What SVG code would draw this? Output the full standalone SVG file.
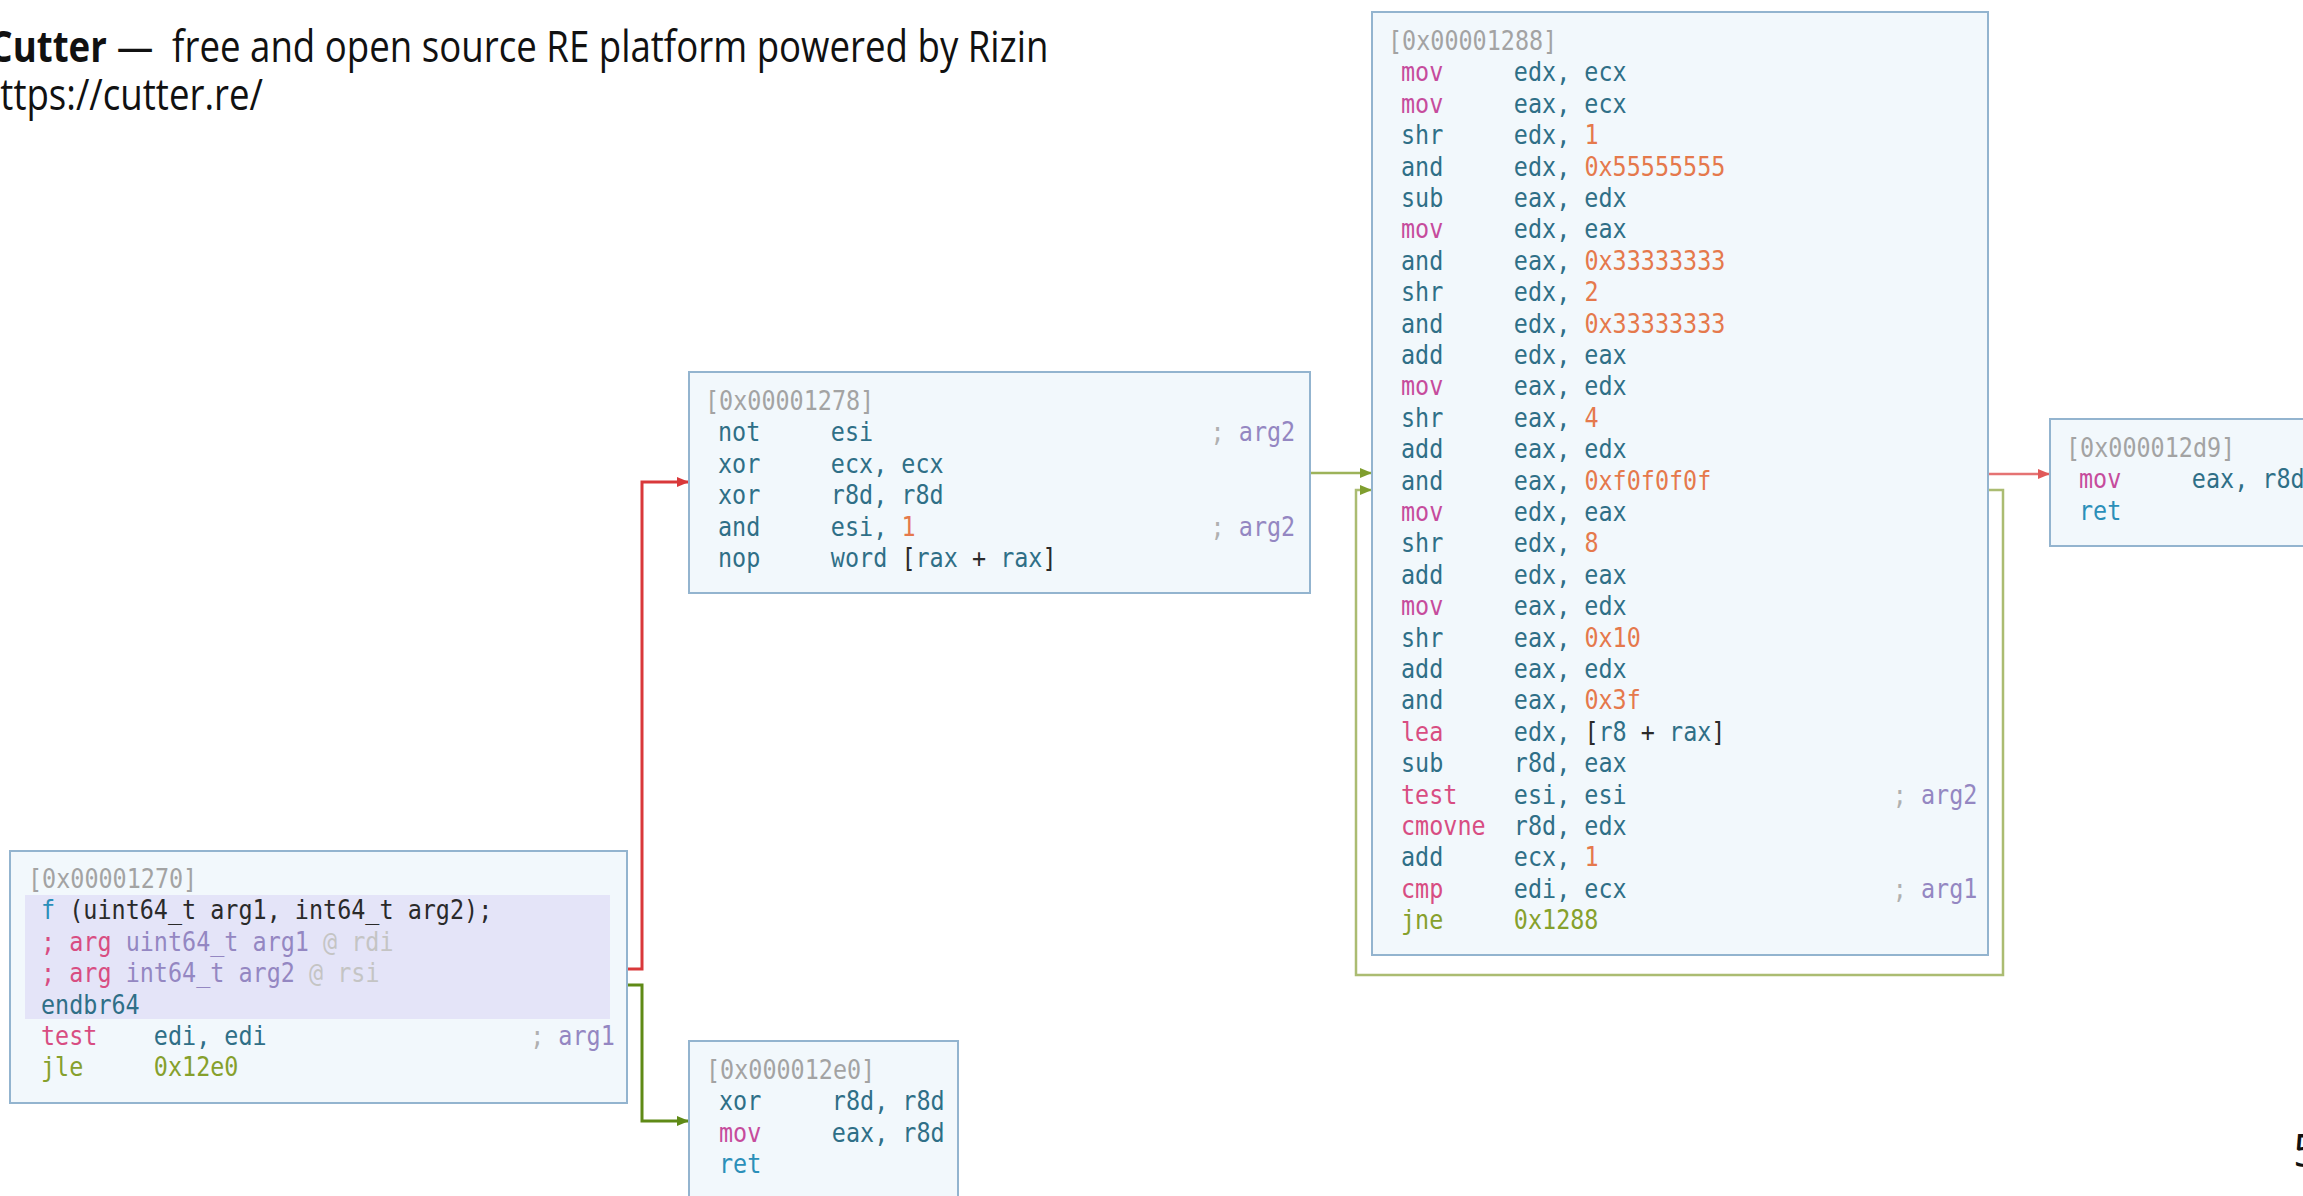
<svg xmlns="http://www.w3.org/2000/svg" width="2303" height="1196" viewBox="0 0 2303 1196">
  <style>
    .blk { fill: #f2f8fc; stroke: #93b4cf; stroke-width: 2; }
    .band { fill: #e4e4f8; }
    .code { font-family: "DejaVu Sans Mono", "Liberation Mono", monospace; font-size: 27px; fill: #2f6f87; }
    .addr { fill: #a3a3a3; }
    .mv { fill: #c64c9c; }
    .hot { fill: #d84d82; }
    .op { fill: #2f6f87; }
    .jmp { fill: #86a02c; }
    .rt { fill: #2b8fb9; }
    .num { fill: #e5794c; }
    .dk { fill: #2a2a2a; }
    .semi { fill: #b0b0b0; }
    .cm { fill: #9487c2; }
    .at { fill: #c4c4c4; }
    .edge { fill: none; stroke-linejoin: miter; }
    .title { font-family: "Open Sans", "Noto Sans", sans-serif; fill: #111; }
  </style>
  <defs>
    <marker id="ahRed" markerUnits="userSpaceOnUse" markerWidth="14" markerHeight="12" refX="12" refY="5" orient="auto">
      <path d="M0,0 L12,5 L0,10 Z" fill="#d9383a"/>
    </marker>
    <marker id="ahGreen" markerUnits="userSpaceOnUse" markerWidth="14" markerHeight="12" refX="12" refY="5" orient="auto">
      <path d="M0,0 L12,5 L0,10 Z" fill="#5f8a16"/>
    </marker>
    <marker id="ahOlive" markerUnits="userSpaceOnUse" markerWidth="14" markerHeight="12" refX="12" refY="5" orient="auto">
      <path d="M0,0 L12,5 L0,10 Z" fill="#7f9e2e"/>
    </marker>
    <marker id="ahPink" markerUnits="userSpaceOnUse" markerWidth="14" markerHeight="12" refX="12" refY="5" orient="auto">
      <path d="M0,0 L12,5 L0,10 Z" fill="#e05a5a"/>
    </marker>
  </defs>

  <rect width="2303" height="1196" fill="#ffffff"/>

  <!-- slide heading -->
  <g id="heading" transform="scale(0.852,1)">
    <text class="title" y="62" font-size="43"><tspan x="-12.5" font-weight="bold">Cutter</tspan><tspan x="137">—</tspan><tspan x="202">free and open source RE platform powered by Rizin</tspan></text>
    <text class="title" x="-26" y="110" font-size="43">https://cutter.re/</text>
  </g>

  <!-- control-flow edges -->
  <g id="connectors">
    <path class="edge" d="M627,969 H642 V482 H689" stroke="#d9383a" stroke-width="3" marker-end="url(#ahRed)"/>
    <path class="edge" d="M627,985 H642 V1121 H689" stroke="#5f8a16" stroke-width="3" marker-end="url(#ahGreen)"/>
    <path class="edge" d="M1310,473 H1372" stroke="#9db35a" stroke-width="2.5" marker-end="url(#ahOlive)"/>
    <path class="edge" d="M1988,490 H2003 V975 H1356 V490 H1372" stroke="#abbc72" stroke-width="2.5" marker-end="url(#ahOlive)"/>
    <path class="edge" d="M1988,474 H2050" stroke="#e57373" stroke-width="2.5" marker-end="url(#ahPink)"/>
  </g>

  <!-- entry block -->
  <g id="blk_1270">
    <rect class="blk" x="10" y="851" width="617" height="252"/>
    <rect class="band" x="25" y="895" width="585" height="124"/>
    <g class="code" transform="translate(28,0) scale(0.868,1)">
      <text class="addr" x="0" y="888">[0x00001270]</text>
      <text x="15" y="919.4"><tspan class="rt">f</tspan> <tspan class="dk">(uint64_t arg1, int64_t arg2);</tspan></text>
      <text x="15" y="950.8"><tspan class="hot">;</tspan> <tspan class="hot">arg</tspan> <tspan class="cm">uint64_t arg1</tspan> <tspan class="at">@ rdi</tspan></text>
      <text x="15" y="982.2"><tspan class="hot">;</tspan> <tspan class="hot">arg</tspan> <tspan class="cm">int64_t arg2</tspan> <tspan class="at">@ rsi</tspan></text>
      <text class="op" x="15" y="1013.6">endbr64</text>
      <text x="15" y="1045"><tspan class="hot">test</tspan><tspan x="145" class="op">edi, edi</tspan></text>
      <text x="676" y="1045" text-anchor="end"><tspan class="semi">;</tspan> <tspan class="cm">arg1</tspan></text>
      <text x="15" y="1076.4"><tspan class="jmp">jle</tspan><tspan x="145" class="jmp">0x12e0</tspan></text>
    </g>
  </g>

  <!-- fall-through block -->
  <g id="blk_1278">
    <rect class="blk" x="689" y="372" width="621" height="221"/>
    <g class="code" transform="translate(705,0) scale(0.868,1)">
      <text class="addr" x="0" y="410">[0x00001278]</text>
      <text x="15" y="441.4"><tspan class="op">not</tspan><tspan x="145" class="op">esi</tspan></text>
      <text x="680" y="441.4" text-anchor="end"><tspan class="semi">;</tspan> <tspan class="cm">arg2</tspan></text>
      <text x="15" y="472.8"><tspan class="op">xor</tspan><tspan x="145" class="op">ecx, ecx</tspan></text>
      <text x="15" y="504.2"><tspan class="op">xor</tspan><tspan x="145" class="op">r8d, r8d</tspan></text>
      <text x="15" y="535.6"><tspan class="op">and</tspan><tspan x="145" class="op">esi,</tspan> <tspan class="num">1</tspan></text>
      <text x="680" y="535.6" text-anchor="end"><tspan class="semi">;</tspan> <tspan class="cm">arg2</tspan></text>
      <text x="15" y="567"><tspan class="op">nop</tspan><tspan x="145" class="op">word</tspan> <tspan class="dk">[</tspan><tspan class="op">rax</tspan> <tspan class="dk">+</tspan> <tspan class="op">rax</tspan><tspan class="dk">]</tspan></text>
    </g>
  </g>

  <!-- loop body -->
  <g id="blk_1288">
    <rect class="blk" x="1372" y="12" width="616" height="943"/>
    <g class="code" transform="translate(1388,0) scale(0.868,1)">
      <text class="addr" x="0" y="50">[0x00001288]</text>
      <text x="15" y="81.4"><tspan class="mv">mov</tspan><tspan x="145" class="op">edx, ecx</tspan></text>
      <text x="15" y="112.8"><tspan class="mv">mov</tspan><tspan x="145" class="op">eax, ecx</tspan></text>
      <text x="15" y="144.2"><tspan class="op">shr</tspan><tspan x="145" class="op">edx,</tspan> <tspan class="num">1</tspan></text>
      <text x="15" y="175.6"><tspan class="op">and</tspan><tspan x="145" class="op">edx,</tspan> <tspan class="num">0x55555555</tspan></text>
      <text x="15" y="207"><tspan class="op">sub</tspan><tspan x="145" class="op">eax, edx</tspan></text>
      <text x="15" y="238.4"><tspan class="mv">mov</tspan><tspan x="145" class="op">edx, eax</tspan></text>
      <text x="15" y="269.8"><tspan class="op">and</tspan><tspan x="145" class="op">eax,</tspan> <tspan class="num">0x33333333</tspan></text>
      <text x="15" y="301.2"><tspan class="op">shr</tspan><tspan x="145" class="op">edx,</tspan> <tspan class="num">2</tspan></text>
      <text x="15" y="332.6"><tspan class="op">and</tspan><tspan x="145" class="op">edx,</tspan> <tspan class="num">0x33333333</tspan></text>
      <text x="15" y="364"><tspan class="op">add</tspan><tspan x="145" class="op">edx, eax</tspan></text>
      <text x="15" y="395.4"><tspan class="mv">mov</tspan><tspan x="145" class="op">eax, edx</tspan></text>
      <text x="15" y="426.8"><tspan class="op">shr</tspan><tspan x="145" class="op">eax,</tspan> <tspan class="num">4</tspan></text>
      <text x="15" y="458.2"><tspan class="op">add</tspan><tspan x="145" class="op">eax, edx</tspan></text>
      <text x="15" y="489.6"><tspan class="op">and</tspan><tspan x="145" class="op">eax,</tspan> <tspan class="num">0xf0f0f0f</tspan></text>
      <text x="15" y="521"><tspan class="mv">mov</tspan><tspan x="145" class="op">edx, eax</tspan></text>
      <text x="15" y="552.4"><tspan class="op">shr</tspan><tspan x="145" class="op">edx,</tspan> <tspan class="num">8</tspan></text>
      <text x="15" y="583.8"><tspan class="op">add</tspan><tspan x="145" class="op">edx, eax</tspan></text>
      <text x="15" y="615.2"><tspan class="mv">mov</tspan><tspan x="145" class="op">eax, edx</tspan></text>
      <text x="15" y="646.6"><tspan class="op">shr</tspan><tspan x="145" class="op">eax,</tspan> <tspan class="num">0x10</tspan></text>
      <text x="15" y="678"><tspan class="op">add</tspan><tspan x="145" class="op">eax, edx</tspan></text>
      <text x="15" y="709.4"><tspan class="op">and</tspan><tspan x="145" class="op">eax,</tspan> <tspan class="num">0x3f</tspan></text>
      <text x="15" y="740.8"><tspan class="hot">lea</tspan><tspan x="145" class="op">edx,</tspan> <tspan class="dk">[</tspan><tspan class="op">r8</tspan> <tspan class="dk">+</tspan> <tspan class="op">rax</tspan><tspan class="dk">]</tspan></text>
      <text x="15" y="772.2"><tspan class="op">sub</tspan><tspan x="145" class="op">r8d, eax</tspan></text>
      <text x="15" y="803.6"><tspan class="hot">test</tspan><tspan x="145" class="op">esi, esi</tspan></text>
      <text x="679" y="803.6" text-anchor="end"><tspan class="semi">;</tspan> <tspan class="cm">arg2</tspan></text>
      <text x="15" y="835"><tspan class="hot">cmovne</tspan><tspan x="145" class="op">r8d, edx</tspan></text>
      <text x="15" y="866.4"><tspan class="op">add</tspan><tspan x="145" class="op">ecx,</tspan> <tspan class="num">1</tspan></text>
      <text x="15" y="897.8"><tspan class="hot">cmp</tspan><tspan x="145" class="op">edi, ecx</tspan></text>
      <text x="679" y="897.8" text-anchor="end"><tspan class="semi">;</tspan> <tspan class="cm">arg1</tspan></text>
      <text x="15" y="929.2"><tspan class="jmp">jne</tspan><tspan x="145" class="jmp">0x1288</tspan></text>
    </g>
  </g>

  <!-- loop exit -->
  <g id="blk_12d9">
    <rect class="blk" x="2050" y="419" width="270" height="127"/>
    <g class="code" transform="translate(2066,0) scale(0.868,1)">
      <text class="addr" x="0" y="457">[0x000012d9]</text>
      <text x="15" y="488.4"><tspan class="mv">mov</tspan><tspan x="145" class="op">eax, r8d</tspan></text>
      <text class="rt" x="15" y="519.8">ret</text>
    </g>
  </g>

  <!-- zero-count return -->
  <g id="blk_12e0">
    <rect class="blk" x="689" y="1041" width="269" height="180"/>
    <g class="code" transform="translate(706,0) scale(0.868,1)">
      <text class="addr" x="0" y="1079">[0x000012e0]</text>
      <text x="15" y="1110.4"><tspan class="op">xor</tspan><tspan x="145" class="op">r8d, r8d</tspan></text>
      <text x="15" y="1141.8"><tspan class="mv">mov</tspan><tspan x="145" class="op">eax, r8d</tspan></text>
      <text class="rt" x="15" y="1173.2">ret</text>
    </g>
  </g>

  <!-- page number -->
  <text class="title" x="2293" y="1167" font-size="46">5</text>
</svg>
